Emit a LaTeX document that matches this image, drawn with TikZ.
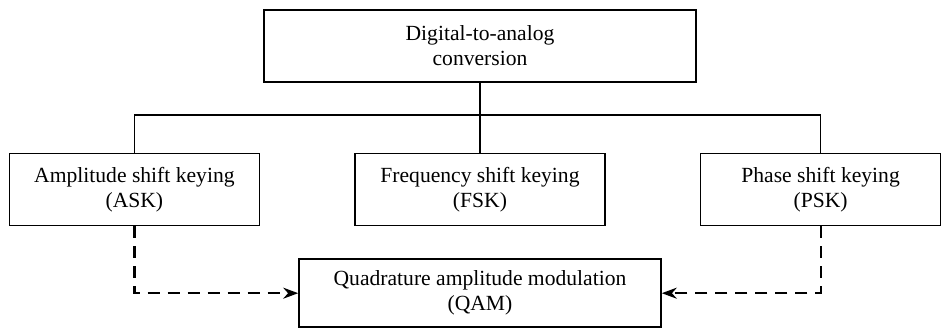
\documentclass[tikz,border=0pt]{standalone}
\usepackage{fontspec}
\setmainfont{Liberation Serif}
\usepackage{tikz}
\usetikzlibrary{positioning, arrows.meta}
\tikzset{
x=1pt, y=1pt, % coordinates in points
>={Stealth[length=7.5pt, width=5.5pt]}, % arrow heads
node distance=47pt, % horizontal gap between the keying boxes
block/.style={draw, line width=0.8pt, align=center, minimum height=36pt, inner sep=2pt, font=\fontsize{10.8}{12.5}\selectfont}, % every box
link/.style={line width=0.8pt}, % solid tree lines
qamlink/.style={->, line width=1.1pt, dash pattern=on 6pt off 4pt}, % dashed arrows into QAM
}
\begin{document}
\begin{tikzpicture}
            \useasboundingbox (0,0) rectangle (472,-165);
            \node[block, minimum width=216pt] (dac) at (240,-23) {Digital-to-analog\\conversion};
            \node[block, minimum width=125pt, below=35pt of dac] (fsk) {Frequency shift keying\\(FSK)};
            \node[block, minimum width=125pt, left=of fsk] (ask) {Amplitude shift keying\\(ASK)};
            \node[block, minimum width=120pt, right=of fsk] (psk) {Phase shift keying\\(PSK)};
            \node[block, minimum width=181pt, minimum height=34pt, below=16pt of fsk] (qam) {Quadrature amplitude modulation\\(QAM)};
            \coordinate (bus) at (0,-57.5);
            \draw[link]
                (dac.south) -- (fsk.north)
                (ask.north) -- (ask.north |- bus) -| (psk.north)
                ;
            \draw[qamlink] (ask.south) |- (qam.west);
            \draw[qamlink] (psk.south) |- (qam.east);
            \end{tikzpicture}
\end{document}
